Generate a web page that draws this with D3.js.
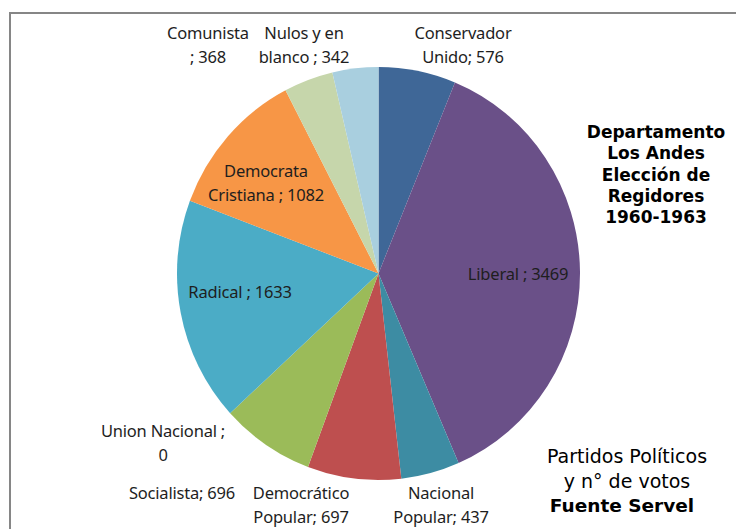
<!DOCTYPE html>
<html>
<head>
<meta charset="utf-8">
<script src="https://cdn.jsdelivr.net/npm/d3@7"></script>
<style>
  html, body { margin: 0; padding: 0; background: #fff; }
  svg { display: block; }
</style>
</head>
<body>
<svg id="chart" width="736" height="529"></svg>
<script>
const parties = ["Conservador Unido", "Liberal", "Nacional Popular", "Democrático Popular", "Socialista", "Union Nacional", "Radical", "Democrata Cristiana", "Comunista", "Nulos y en blanco"];
const votes = [576, 3469, 437, 697, 696, 0, 1633, 1082, 368, 342];
const colors = ["#3f6797", "#6a5088", "#3d8ca3", "#be4f4f", "#9bbb59", "#7f7f7f", "#4bacc6", "#f79646", "#c6d6ab", "#a9cfdf"];
const labelLines = [
  ["Conservador", "Unido; 576"],
  ["Liberal ; 3469"],
  ["Nacional", "Popular; 437"],
  ["Democrático", "Popular; 697"],
  ["Socialista; 696"],
  ["Union Nacional ;", "0"],
  ["Radical ; 1633"],
  ["Democrata", "Cristiana ; 1082"],
  ["Comunista", "; 368"],
  ["Nulos y en", "blanco ; 342"]
];
const titleLines = ["Departamento", "Los Andes", "Elección de", "Regidores", "1960-1963"];
const noteLines = ["Partidos Políticos", "y n° de votos"];
const sourceLine = "Fuente Servel";

const svg = d3.select("#chart");

// frame
svg.append("path")
  .attr("d", "M10,740 L10,13 L740,13")
  .attr("fill", "none").attr("stroke", "#868686").attr("stroke-width", 2);

const cx = 378.5, cy = 273.5, r = 201.5, sy = 206.5 / 201.5;
const pie = d3.pie().sort(null).value(d => d)(votes);
const arc = d3.arc().innerRadius(0).outerRadius(r);

const g = svg.append("g").attr("transform", `translate(${cx},${cy}) scale(1,${sy})`);
g.selectAll("path").data(pie).join("path")
  .attr("d", arc)
  .attr("fill", (d, i) => colors[i]);

// label positions (centre x, first baseline y)
const labelPos = [
  [463, 39], [518, 280], [441, 499], [301, 499], [182, 499],
  [163, 437], [240, 298], [266, 177], [208, 39], [304, 39]
];
const font = "'Noto Sans', sans-serif";
labelLines.forEach((lines, i) => {
  const t = svg.append("text")
    .attr("text-anchor", "middle")
    .attr("font-family", font)
    .attr("font-size", 16.5)
    .attr("letter-spacing", -0.2)
    .attr("fill", "#1e1e1e");
  lines.forEach((ln, k) => {
    t.append("tspan").attr("x", labelPos[i][0]).attr("y", labelPos[i][1] + k * 23.5).text(ln);
  });
});

const tt = svg.append("text")
  .attr("text-anchor", "middle")
  .attr("font-family", "'DejaVu Sans', sans-serif")
  .attr("font-weight", "bold")
  .attr("font-size", 17)
  .attr("fill", "#000");
titleLines.forEach((ln, k) => {
  tt.append("tspan").attr("x", 656).attr("y", 138 + k * 21.3).text(ln);
});

const nt = svg.append("text")
  .attr("text-anchor", "middle")
  .attr("font-family", "'DejaVu Sans', sans-serif")
  .attr("font-size", 19)
  .attr("fill", "#000");
noteLines.forEach((ln, k) => {
  nt.append("tspan").attr("x", 627).attr("y", 463 + k * 24.5).text(ln);
});
nt.append("tspan").attr("x", 622).attr("y", 512).attr("font-weight", "bold").attr("font-size", 18.5).text(sourceLine);
</script>
</body>
</html>
